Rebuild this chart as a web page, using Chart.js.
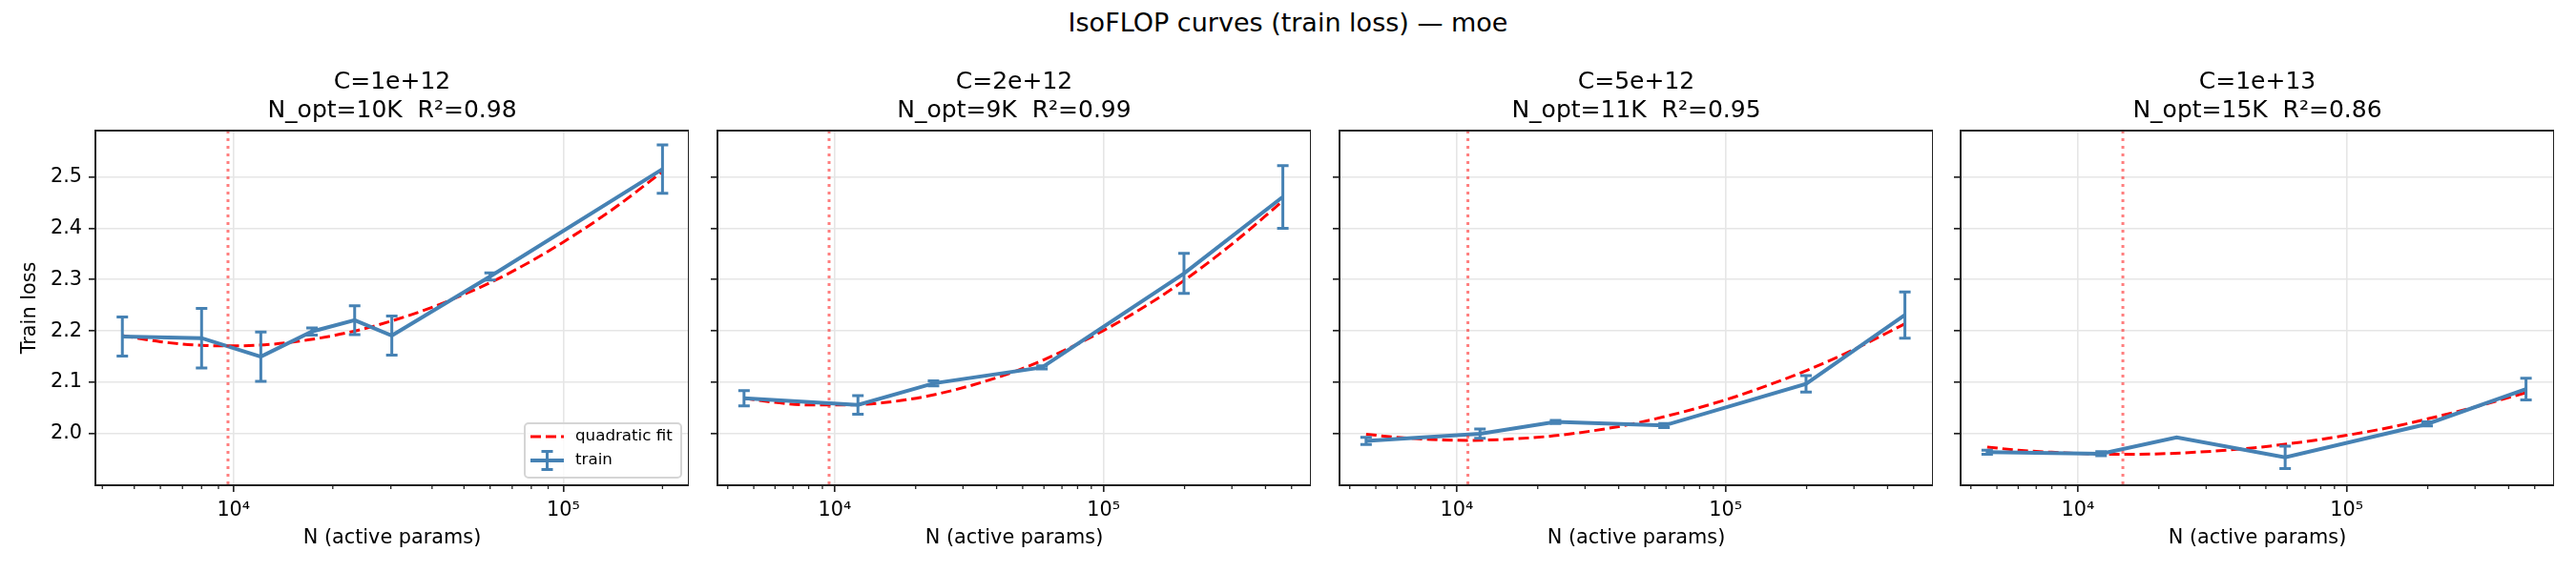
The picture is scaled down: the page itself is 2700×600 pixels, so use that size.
<!DOCTYPE html>
<html>
<head>
<meta charset="utf-8">
<script src="https://cdn.jsdelivr.net/npm/chart.js@4.4.0/dist/chart.umd.min.js"></script>
<style>
  html, body { margin: 0; padding: 0; background: #fff; }
  #fig { position: relative; width: 2700px; height: 600px; overflow: hidden; font-family: 'DejaVu Sans', sans-serif; }
  #suptitle { position: absolute; left: 0; top: 9px; width: 2700px; text-align: center; font-size: 27px; line-height: 30px; color: #000; }
  .panel { position: absolute; top: 0; width: 722px; height: 600px; }
</style>
</head>
<body>
<div id="fig">
  <div id="suptitle">IsoFLOP curves (train loss) — moe</div>
  <div class="panel" style="left:0px"><canvas id="c0" width="722" height="600"></canvas></div>
  <div class="panel" style="left:652px"><canvas id="c1" width="722" height="600"></canvas></div>
  <div class="panel" style="left:1304px"><canvas id="c2" width="722" height="600"></canvas></div>
  <div class="panel" style="left:1955px"><canvas id="c3" width="722" height="600"></canvas></div>
</div>
<script>
// panel headings
const budgets = ['C=1e+12', 'C=2e+12', 'C=5e+12', 'C=1e+13']
const optLabels = ['N_opt=10K  R²=0.98', 'N_opt=9K  R²=0.99', 'N_opt=11K  R²=0.95', 'N_opt=15K  R²=0.86']
const nOpt = [9620, 9530, 11000, 14700]

// axes
const xLimLo = [3811, 3664, 3664, 3664]
const xLimHi = [240400, 590000, 590000, 590000]
const yLim = [1.8997, 2.590]
const yTicks = [2.0, 2.1, 2.2, 2.3, 2.4, 2.5]
const xTicks = [4000, 5000, 6000, 7000, 8000, 9000, 10000, 20000, 30000, 40000, 50000, 60000, 70000, 80000, 90000, 100000, 200000, 300000, 400000, 500000]
const xMajor = [10000, 100000]
const xMajorLabels = ['10⁴', '10⁵']

// C=1e+12
const n1 = [4600, 8000, 12100, 17300, 23300, 30200, 60000, 200000]
const loss1 = [2.189, 2.186, 2.150, 2.199, 2.221, 2.191, 2.306, 2.515]
const err1 = [0.038, 0.058, 0.048, 0.007, 0.028, 0.038, 0.007, 0.047]
const fitN1 = [4600, 6000, 8000, 10000, 13000, 17000, 23000, 30000, 40000, 60000, 80000, 100000, 140000, 200000]
const fitLoss1 = [2.191, 2.179, 2.172, 2.171, 2.174, 2.183, 2.199, 2.219, 2.246, 2.294, 2.336, 2.373, 2.435, 2.510]

// C=2e+12 .. 1e+13 share the same N grid
const nGrid = [4600, 12200, 23300, 59000, 199000, 464000]
const loss2 = [2.069, 2.056, 2.098, 2.129, 2.312, 2.461]
const err2 = [0.015, 0.018, 0.005, 0.003, 0.039, 0.061]
const loss3 = [1.986, 2.000, 2.023, 2.016, 2.097, 2.231]
const err3 = [0.007, 0.009, 0.003, 0.004, 0.016, 0.045]
const loss4 = [1.964, 1.961, 1.993, 1.954, 2.019, 2.087]
const err4 = [0.004, 0.004, 0, 0.022, 0.004, 0.021]

const fitN = [4600, 6000, 8000, 11000, 15000, 23000, 40000, 60000, 100000, 150000, 200000, 300000, 464000]
const fitLoss2 = [2.069, 2.061, 2.056, 2.056, 2.060, 2.075, 2.109, 2.144, 2.201, 2.255, 2.299, 2.369, 2.453]
const fitLoss3 = [1.999, 1.993, 1.989, 1.987, 1.989, 1.996, 2.014, 2.034, 2.066, 2.098, 2.123, 2.164, 2.214]
const fitLoss4 = [1.974, 1.968, 1.964, 1.961, 1.960, 1.962, 1.970, 1.980, 1.997, 2.014, 2.029, 2.052, 2.080]

const BLUE = '#4682b4'
const RED = '#ff0000'
const GRID = '#e6e6e6'
const INK = '#222222'
const FONT = 'DejaVu Sans'

Chart.defaults.font.family = FONT

function toPoints(xs, ys) {
    return xs.map((x, k) => ({ x: x, y: ys[k] }))
}

function errBar(ctx, x, yTop, yBot, half, lw) {
    ctx.beginPath()
    ctx.moveTo(x, yTop)
    ctx.lineTo(x, yBot)
    ctx.moveTo(x - half, yTop)
    ctx.lineTo(x + half, yTop)
    ctx.moveTo(x - half, yBot)
    ctx.lineTo(x + half, yBot)
    ctx.lineWidth = lw
    ctx.stroke()
}

function extras(i, n, loss, err) {
    return {
        id: 'extras' + i,
        afterDatasetDraw(chart, args) {
            if (args.index !== 0) return
            const ctx = chart.ctx
            const xs = chart.scales.x, ys = chart.scales.y
            ctx.save()
            ctx.strokeStyle = BLUE
            n.forEach((v, k) => {
                if (!err[k]) return
                const x = xs.getPixelForValue(v)
                errBar(ctx, x, ys.getPixelForValue(loss[k] + err[k]), ys.getPixelForValue(loss[k] - err[k]), 6, 3)
            })
            ctx.restore()
        },
        afterDraw(chart) {
            const ctx = chart.ctx
            const a = chart.chartArea
            const xs = chart.scales.x
            ctx.save()
            // N_opt marker
            const xo = xs.getPixelForValue(nOpt[i])
            ctx.strokeStyle = 'rgba(255,0,0,0.5)'
            ctx.lineWidth = 3
            ctx.setLineDash([3, 5])
            ctx.beginPath()
            ctx.moveTo(xo, a.top)
            ctx.lineTo(xo, a.bottom)
            ctx.stroke()
            ctx.setLineDash([])
            // minor ticks
            ctx.strokeStyle = INK
            ctx.lineWidth = 1.3
            xTicks.forEach(v => {
                if (v < xLimLo[i] || v > xLimHi[i] || xMajor.includes(v)) return
                const x = xs.getPixelForValue(v)
                ctx.beginPath()
                ctx.moveTo(x, a.bottom)
                ctx.lineTo(x, a.bottom + 4)
                ctx.stroke()
            })
            // frame
            ctx.lineWidth = 2
            ctx.strokeRect(a.left, a.top, a.right - a.left, a.bottom - a.top)
            // legend
            if (i === 0) {
                const w = 164, h = 57
                const bx = a.right - 8 - w, by = a.bottom - 8 - h
                ctx.beginPath()
                ctx.roundRect(bx, by, w, h, 4)
                ctx.fillStyle = 'rgba(255,255,255,0.8)'
                ctx.fill()
                ctx.strokeStyle = '#d5d5d5'
                ctx.lineWidth = 2
                ctx.stroke()
                const y1 = by + 14, y2 = by + 39
                ctx.strokeStyle = RED
                ctx.lineWidth = 3
                ctx.setLineDash([11, 5])
                ctx.beginPath()
                ctx.moveTo(bx + 6, y1)
                ctx.lineTo(bx + 41, y1)
                ctx.stroke()
                ctx.setLineDash([])
                ctx.strokeStyle = BLUE
                ctx.lineWidth = 4
                ctx.beginPath()
                ctx.moveTo(bx + 6, y2)
                ctx.lineTo(bx + 41, y2)
                ctx.stroke()
                errBar(ctx, bx + 23.5, y2 - 9.5, y2 + 9.5, 6, 3)
                ctx.fillStyle = '#000'
                ctx.font = '16.7px "' + FONT + '"'
                ctx.textBaseline = 'middle'
                ctx.textAlign = 'left'
                ctx.fillText('quadratic fit', bx + 53, y1)
                ctx.fillText('train', bx + 53, y2)
            }
            ctx.restore()
        }
    }
}

function panel(i, n, loss, err, fN, fLoss) {
    const first = i === 0
    new Chart(document.getElementById('c' + i), {
        type: 'line',
        data: {
            datasets: [
                {
                    label: 'train',
                    data: toPoints(n, loss),
                    borderColor: BLUE,
                    borderWidth: 4,
                    pointRadius: 0,
                    tension: 0,
                    fill: false,
                    order: 0
                },
                {
                    label: 'quadratic fit',
                    data: toPoints(fN, fLoss),
                    borderColor: RED,
                    borderWidth: 3,
                    borderDash: [11, 5],
                    pointRadius: 0,
                    cubicInterpolationMode: 'monotone',
                    fill: false,
                    order: 1
                }
            ]
        },
        options: {
            responsive: false,
            animation: false,
            events: [],
            layout: { padding: 0 },
            plugins: {
                legend: { display: false },
                tooltip: { enabled: false },
                title: {
                    display: true,
                    fullSize: false,
                    text: [budgets[i], optLabels[i]],
                    color: '#000',
                    font: { size: 25, weight: 'normal', lineHeight: 1.2 },
                    padding: { top: 71, bottom: 6 }
                }
            },
            scales: {
                x: {
                    type: 'logarithmic',
                    min: xLimLo[i],
                    max: xLimHi[i],
                    afterBuildTicks: axis => {
                        axis.ticks = xTicks.filter(v => v >= xLimLo[i] && v <= xLimHi[i]).map(v => ({ value: v }))
                    },
                    afterFit: axis => { axis.height = 91 },
                    border: { display: false },
                    grid: {
                        color: c => (c.tick && xMajor.includes(c.tick.value)) ? GRID : 'rgba(0,0,0,0)',
                        lineWidth: 1.6,
                        tickColor: c => (c.tick && xMajor.includes(c.tick.value)) ? INK : 'rgba(0,0,0,0)',
                        tickLength: 7,
                        tickWidth: 1.7
                    },
                    ticks: {
                        autoSkip: false,
                        maxRotation: 0,
                        minRotation: 0,
                        padding: 7,
                        color: '#000',
                        font: { size: 20.8 },
                        callback: value => {
                            const k = xMajor.indexOf(value)
                            return k >= 0 ? xMajorLabels[k] : ''
                        }
                    },
                    title: {
                        display: true,
                        text: 'N (active params)',
                        color: '#000',
                        font: { size: 20.8 },
                        padding: { top: 0, bottom: 22.5 }
                    }
                },
                y: {
                    type: 'linear',
                    min: yLim[0],
                    max: yLim[1],
                    afterBuildTicks: axis => {
                        axis.ticks = yTicks.map(v => ({ value: v }))
                    },
                    afterFit: axis => { axis.width = 100 },
                    border: { display: false },
                    grid: {
                        color: GRID,
                        lineWidth: 1.6,
                        tickColor: INK,
                        tickLength: 7,
                        tickWidth: 1.7
                    },
                    ticks: {
                        padding: 7,
                        color: '#000',
                        font: { size: 20.8 },
                        callback: value => first ? value.toFixed(1) : ''
                    },
                    title: {
                        display: first,
                        text: 'Train loss',
                        color: '#000',
                        font: { size: 20.8 },
                        padding: { top: 19.5, bottom: 0 }
                    }
                }
            }
        },
        plugins: [extras(i, n, loss, err)]
    })
}

panel(0, n1, loss1, err1, fitN1, fitLoss1)
panel(1, nGrid, loss2, err2, fitN, fitLoss2)
panel(2, nGrid, loss3, err3, fitN, fitLoss3)
panel(3, nGrid, loss4, err4, fitN, fitLoss4)
</script>
</body>
</html>
